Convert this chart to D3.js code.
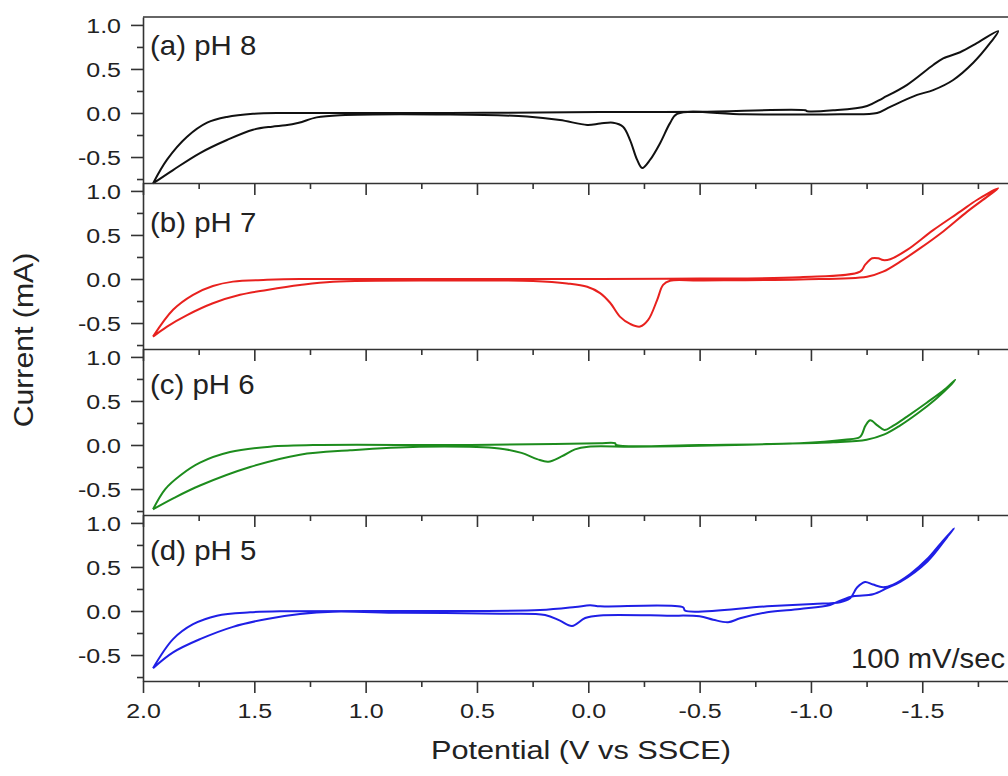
<!DOCTYPE html>
<meta charset="utf-8">
<style>
    body { margin: 0; background: #fff; }
    svg { display: block; }
    text { font-family: "Liberation Sans", Arial, sans-serif; fill: #222; }
    .axis path, .axis line { stroke: #333; stroke-width: 1.6; }
    .frame { fill: none; stroke: #333; stroke-width: 1.6; }
    path.cv { fill: none; stroke-width: 2; stroke-linejoin: round; }
</style>
<body>
<script src="https://cdn.jsdelivr.net/npm/d3@7/dist/d3.min.js"></script>
<script>
    // cyclic voltammograms: [potential (V), current (mA)]
    var cvPH8 = [
        [1.955, -0.80], [1.892, -0.53], [1.802, -0.27], [1.712, -0.11], [1.623, -0.045], [1.506, -0.01],
        [1.371, 0.0], [0.621, 0.0], [-0.053, 0.01], [-0.50, 0.015], [-0.975, 0.03], [-0.983, 0.02],
        [-1.10, 0.03], [-1.252, 0.08], [-1.324, 0.17], [-1.432, 0.32], [-1.549, 0.545], [-1.594, 0.62],
        [-1.670, 0.69], [-1.747, 0.795], [-1.841, 0.93],
        [-1.805, 0.795], [-1.729, 0.57], [-1.639, 0.375], [-1.549, 0.26], [-1.477, 0.205], [-1.356, 0.07],
        [-1.297, 0.0], [-1.131, -0.015], [-0.70, -0.015], [-0.399, -0.01], [-0.367, -0.115], [-0.323, -0.34],
        [-0.278, -0.53], [-0.242, -0.625], [-0.219, -0.53], [-0.188, -0.31], [-0.156, -0.155], [-0.111, -0.11],
        [-0.053, -0.12], [0.005, -0.135], [0.127, -0.08], [0.275, -0.04], [0.621, -0.017], [1.115, -0.025],
        [1.22, -0.05], [1.30, -0.11], [1.36, -0.14], [1.42, -0.155], [1.506, -0.19], [1.623, -0.307],
        [1.744, -0.455], [1.865, -0.648], [1.955, -0.80]
    ];
    var cvPH7 = [
        [1.955, -0.655], [1.865, -0.35], [1.775, -0.18], [1.686, -0.08], [1.596, -0.03], [1.443, -0.01],
        [1.295, 0.0], [0.621, 0.0], [-0.053, 0.0], [-0.50, 0.005], [-0.951, 0.02], [-1.221, 0.083],
        [-1.243, 0.16], [-1.275, 0.235], [-1.302, 0.235], [-1.324, 0.215], [-1.356, 0.225], [-1.432, 0.33],
        [-1.549, 0.555], [-1.670, 0.765], [-1.747, 0.90], [-1.841, 1.03],
        [-1.792, 0.935], [-1.702, 0.765], [-1.594, 0.54], [-1.491, 0.35], [-1.401, 0.197], [-1.324, 0.083],
        [-1.252, 0.026], [-0.951, -0.005], [-0.50, -0.017], [-0.367, -0.02], [-0.336, -0.068], [-0.309, -0.24],
        [-0.269, -0.465], [-0.233, -0.54], [-0.188, -0.51], [-0.143, -0.43], [-0.098, -0.27], [-0.053, -0.16],
        [0.005, -0.088], [0.095, -0.05], [0.248, -0.023], [0.621, -0.017], [1.146, -0.03], [1.295, -0.068],
        [1.443, -0.125], [1.564, -0.18], [1.686, -0.276], [1.802, -0.41], [1.892, -0.54], [1.955, -0.655]
    ];
    var cvPH6 = [
        [1.955, -0.73], [1.90, -0.50], [1.83, -0.34], [1.744, -0.20], [1.609, -0.08], [1.43, -0.02],
        [1.20, 0.0], [0.60, 0.0], [0.15, 0.01], [-0.05, 0.02], [-0.12, 0.02], [-0.125, 0.0],
        [-0.50, 0.0], [-0.95, 0.02], [-1.15, 0.06], [-1.22, 0.09], [-1.245, 0.22], [-1.266, 0.28],
        [-1.30, 0.22], [-1.33, 0.17], [-1.37, 0.22], [-1.43, 0.32], [-1.52, 0.48], [-1.60, 0.63],
        [-1.648, 0.74],
        [-1.62, 0.66], [-1.56, 0.52], [-1.48, 0.36], [-1.40, 0.22], [-1.33, 0.12], [-1.25, 0.06],
        [-1.10, 0.03], [-0.80, 0.01], [-0.50, -0.01], [-0.20, -0.02], [0.0, -0.02], [0.06, -0.05],
        [0.12, -0.13], [0.18, -0.19], [0.23, -0.16], [0.30, -0.09], [0.40, -0.04], [0.76, -0.02],
        [1.07, -0.06], [1.295, -0.11], [1.519, -0.25], [1.744, -0.46], [1.86, -0.60], [1.955, -0.73]
    ];
    var cvPH5 = [
        [1.955, -0.65], [1.865, -0.32], [1.775, -0.15], [1.668, -0.053], [1.519, -0.015], [1.371, -0.003],
        [0.621, 0.0], [0.217, 0.01], [0.059, 0.045], [-0.008, 0.065], [-0.053, 0.053], [-0.426, 0.042],
        [-0.435, 0.003], [-0.803, 0.053], [-1.010, 0.08], [-1.131, 0.10], [-1.176, 0.145], [-1.208, 0.27],
        [-1.243, 0.33], [-1.279, 0.30], [-1.324, 0.27], [-1.369, 0.30], [-1.446, 0.42], [-1.522, 0.59],
        [-1.580, 0.76], [-1.643, 0.94],
        [-1.612, 0.84], [-1.522, 0.56], [-1.401, 0.33], [-1.342, 0.26], [-1.279, 0.19], [-1.190, 0.167],
        [-1.131, 0.117], [-1.086, 0.068], [-0.951, 0.023], [-0.803, -0.015], [-0.682, -0.083], [-0.628, -0.128],
        [-0.561, -0.099], [-0.50, -0.06], [-0.354, -0.053], [-0.053, -0.05], [0.014, -0.08], [0.073, -0.17],
        [0.127, -0.11], [0.194, -0.045], [0.396, -0.03], [0.845, -0.02], [1.146, -0.008], [1.295, -0.034],
        [1.443, -0.09], [1.596, -0.18], [1.744, -0.32], [1.865, -0.47], [1.955, -0.65]
    ];

    var curves = [cvPH8, cvPH7, cvPH6, cvPH5];
    var panelLabels = ["(a) pH 8", "(b) pH 7", "(c) pH 6", "(d) pH 5"];
    var curveColors = ["#111111", "#e8211e", "#1d8c1d", "#1f1fe6"];

    var xTickValues = [2.0, 1.5, 1.0, 0.5, 0.0, -0.5, -1.0, -1.5];
    var xTickLabels = ["2.0", "1.5", "1.0", "0.5", "0.0", "-0.5", "-1.0", "-1.5"];
    var xMinorValues = [1.75, 1.25, 0.75, 0.25, -0.25, -0.75, -1.25, -1.75];
    var yTickValues = [1.0, 0.5, 0.0, -0.5];
    var yTickLabels = ["1.0", "0.5", "0.0", "-0.5"];
    var yMinorValues = [0.75, 0.25, -0.25, -0.75];

    var width = 1008, height = 776;
    var plotLeft = 143, plotRight = 1018, plotTop = 17, panelH = 166;
    var labelDy = [38, 49, 45, 45];
    var sx = 1.25; // the source lettering is wider than Arial

    var x = d3.scaleLinear().domain([2.0, -1.93]).range([plotLeft, plotRight]);
    var y = d3.scaleLinear().domain([-0.795, 1.09]).range([panelH, 0]);

    var line = d3.line()
        .x(function (d) { return x(d[0]); })
        .y(function (d) { return y(d[1]); })
        .curve(d3.curveCatmullRom.alpha(0.5));

    var svg = d3.select("body").append("svg")
        .attr("width", width)
        .attr("height", height);

    function stretch(sel, k) {
        sel.each(function () {
            var t = d3.select(this);
            var tx = +t.attr("x") || 0;
            t.attr("x", tx / k).attr("transform", "scale(" + k + ",1)");
        });
    }

    curves.forEach(function (data, i) {
        var top = plotTop + i * panelH;
        var g = svg.append("g")
            .attr("class", "panel")
            .attr("transform", "translate(0," + top + ")");

        g.append("path")
            .attr("class", "cv")
            .attr("stroke", curveColors[i])
            .attr("d", line(data));

        // minor ticks first so major ones sit on top
        g.append("g")
            .attr("class", "axis")
            .attr("transform", "translate(" + plotLeft + ",0)")
            .call(d3.axisLeft(y).tickValues(yMinorValues).tickSize(6).tickSizeOuter(0).tickFormat(""))
            .select(".domain").remove();

        var ya = g.append("g")
            .attr("class", "axis")
            .attr("transform", "translate(" + plotLeft + ",0)")
            .call(d3.axisLeft(y).tickValues(yTickValues).tickSize(12).tickSizeOuter(0).tickPadding(10)
                .tickFormat(function (d, j) { return yTickLabels[j]; }));
        ya.selectAll("text").attr("font-size", 20).attr("dy", "0.36em");
        stretch(ya.selectAll("text"), sx);

        g.append("g")
            .attr("class", "axis")
            .attr("transform", "translate(0," + panelH + ")")
            .call(d3.axisBottom(x).tickValues(xMinorValues).tickSize(6).tickSizeOuter(0).tickFormat(""))
            .select(".domain").remove();

        var xa = g.append("g")
            .attr("class", "axis")
            .attr("transform", "translate(0," + panelH + ")")
            .call(d3.axisBottom(x).tickValues(xTickValues).tickSize(12).tickSizeOuter(0).tickPadding(11)
                .tickFormat(function (d, j) { return i === curves.length - 1 ? xTickLabels[j] : ""; }));
        xa.selectAll("text").attr("font-size", 20);
        stretch(xa.selectAll("text"), sx);

        if (i === 0) {
            g.append("line")
                .attr("class", "frame")
                .attr("x1", plotLeft).attr("x2", plotRight)
                .attr("y1", 0).attr("y2", 0);
        }

        var lab = g.append("text")
            .attr("x", plotLeft + 7)
            .attr("y", labelDy[i])
            .attr("font-size", 27)
            .text(panelLabels[i]);
        stretch(lab, 1.09);
    });

    var bottom = plotTop + curves.length * panelH;

    var note = svg.append("text")
        .attr("x", 1005)
        .attr("y", bottom - 13)
        .attr("font-size", 27)
        .attr("text-anchor", "end")
        .text("100 mV/sec");
    stretch(note, 1.08);

    var xt = svg.append("text")
        .attr("x", 581)
        .attr("y", 759)
        .attr("font-size", 26)
        .attr("text-anchor", "middle")
        .text("Potential (V vs SSCE)");
    stretch(xt, 1.18);

    svg.append("text")
        .attr("transform", "translate(33,340) rotate(-90) scale(1.12,1)")
        .attr("font-size", 27)
        .attr("text-anchor", "middle")
        .text("Current (mA)");
</script>
